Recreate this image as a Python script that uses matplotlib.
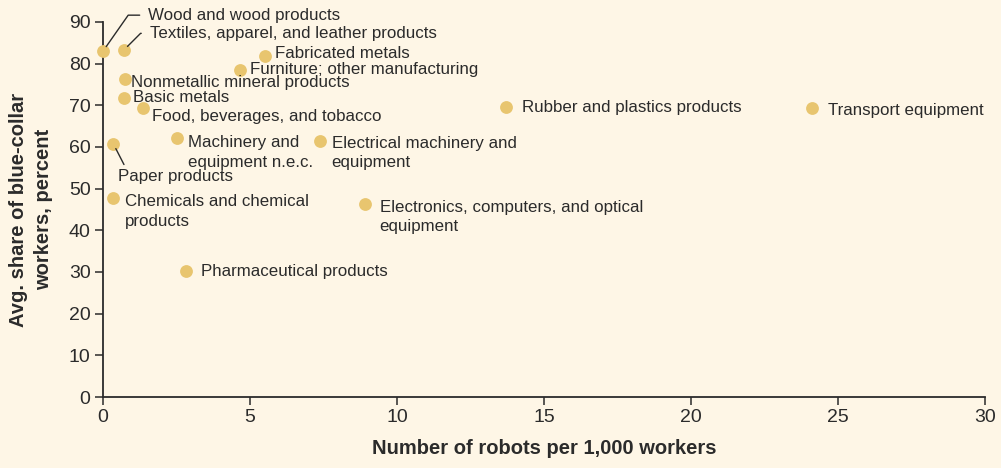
"""Robots per 1,000 workers vs. share of blue-collar workers, by industry."""

import matplotlib
matplotlib.use('Agg')
import matplotlib.pyplot as plt

industries = [
    'Wood and wood products',
    'Textiles, apparel, and leather products',
    'Fabricated metals',
    'Furniture; other manufacturing',
    'Nonmetallic mineral products',
    'Basic metals',
    'Food, beverages, and tobacco',
    'Machinery and\nequipment n.e.c.',
    'Electrical machinery and\nequipment',
    'Paper products',
    'Chemicals and chemical\nproducts',
    'Electronics, computers, and optical\nequipment',
    'Pharmaceutical products',
    'Rubber and plastics products',
    'Transport equipment',
]
robots = [0.0, 0.7, 5.5, 4.65, 0.75, 0.72, 1.37, 2.5, 7.37, 0.35, 0.34, 8.9, 2.82, 13.7, 24.1]
blue_collar = [83.0, 83.2, 81.8, 78.5, 76.2, 71.8, 69.4, 62.1, 61.5, 60.8, 47.7, 46.4, 30.2, 69.7, 69.3]

x_ticks = [0, 5, 10, 15, 20, 25, 30]
y_ticks = [0, 10, 20, 30, 40, 50, 60, 70, 80, 90]

BG = '#fef6e6'
DOT = '#e8c56f'
INK = '#2b2b2b'
SANS = ['Liberation Sans', 'DejaVu Sans']
LABEL_SIZE = 12.2

# label placement: offset in pixels from the dot (right, up), leader line style,
# where the leader meets the text, and the gap left at the text end
label_style = {
    'Wood and wood products': (45, 36, 'angle,angleA=0,angleB=55', (0.0, 0.5), 4),
    'Textiles, apparel, and leather products': (26, 17, 'angle,angleA=0,angleB=45', (0.0, 0.5), 4),
    'Paper products': (5, -33, 'arc3', (0.07, 1.0), 1.5),
}
label_offsets = [
    None, None, (10, 3), (10, 0), (6, -3), (9, 0), (9, -9), (11, -6),
    (12, -4), None, (12, -5), (15, -5), (15, 0), (16, -1), (16, -2),
]

plt.rcParams['font.family'] = SANS
fig = plt.figure(figsize=(10.01, 4.68), dpi=100, facecolor=BG)
ax = fig.add_axes([103 / 1001, 1 - 397 / 468, 882 / 1001, 375 / 468])
ax.set_facecolor(BG)

ax.scatter(robots, blue_collar, s=85, color=DOT, linewidths=0, zorder=3,
           clip_on=False)

px = 0.72  # points per pixel at 100 dpi
for name, x, y, off in zip(industries, robots, blue_collar, label_offsets):
    if name in label_style:
        dx, dy, conn, relpos, gap = label_style[name]
        ax.annotate(name, (x, y), xytext=(dx * px, dy * px),
                    textcoords='offset points', ha='left', va='center',
                    fontsize=LABEL_SIZE, color=INK, annotation_clip=False,
                    arrowprops=dict(arrowstyle='-', color=INK, lw=1.0,
                                    connectionstyle=conn, relpos=relpos,
                                    shrinkA=gap, shrinkB=4))
        continue
    dx, dy = off
    multi = '\n' in name
    ax.annotate(name, (x, y), xytext=(dx * px, (dy + (9 if multi else 0)) * px),
                textcoords='offset points', ha='left',
                va='top' if multi else 'center',
                fontsize=LABEL_SIZE, color=INK, linespacing=1.38,
                annotation_clip=False)

ax.set_xlim(0, 30)
ax.set_ylim(0, 90)
ax.set_xticks(x_ticks)
ax.set_yticks(y_ticks)
ax.set_xticklabels([str(v) for v in x_ticks], fontsize=14, color=INK)
ax.set_yticklabels([str(v) for v in y_ticks], fontsize=14, color=INK)
ax.tick_params(axis='both', direction='out', length=6, width=1.1, color=INK, pad=3)

for side in ('top', 'right'):
    ax.spines[side].set_visible(False)
for side in ('left', 'bottom'):
    ax.spines[side].set_color(INK)
    ax.spines[side].set_linewidth(1.3)

ax.set_xlabel('Number of robots per 1,000 workers', fontsize=14.5,
              fontweight='bold', color=INK, labelpad=9)
ax.set_ylabel('Avg. share of blue-collar\nworkers, percent', fontsize=14.5,
              fontweight='bold', color=INK, labelpad=11.5, linespacing=1.4)

fig.savefig('out.png', dpi=100, facecolor=BG)
